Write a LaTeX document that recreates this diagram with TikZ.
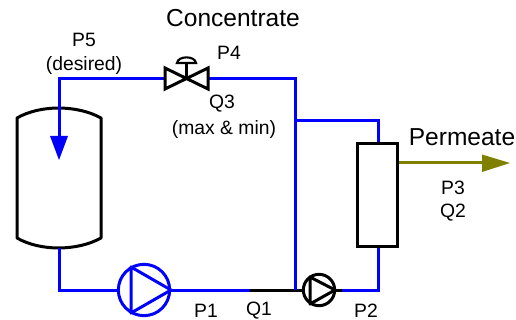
\documentclass[tikz,border=0pt]{standalone}
\usepackage{fontspec}
\setmainfont{Liberation Sans}
\usetikzlibrary{arrows.meta}
\definecolor{pipeblue}{RGB}{0,0,255}
\definecolor{permolive}{RGB}{128,128,0}
\tikzset{
  pipe/.style={draw=pipeblue,line width=2.25pt,line join=miter},
  blackpart/.style={draw=black,line width=2.25pt,line join=round},
  lab/.style={font=\fontsize{14.5pt}{16pt}\selectfont,inner sep=0pt,anchor=center},
  biglab/.style={font=\fontsize{18.4pt}{20pt}\selectfont,inner sep=0pt,anchor=center},
  pumpa/.style={circle,draw=pipeblue,line width=2.25pt,minimum size=38.5pt,inner sep=0pt,outer sep=0pt},
  pumpb/.style={circle,draw=black,line width=2.25pt,minimum size=23.5pt,inner sep=0pt,outer sep=0pt},
  membrane/.style={rectangle,draw=black,line width=2.25pt,minimum width=30.5pt,minimum height=77pt,inner sep=0pt,outer sep=0pt}
}
\begin{document}
\begin{tikzpicture}[x=0.75pt,y=-0.75pt]
\useasboundingbox (0,0) rectangle (516,320);
% named points
\coordinate (corner) at (59,79);
\coordinate (valveL) at (165,79);
\coordinate (valveC) at (186,79);
\coordinate (valveR) at (208,79);
\coordinate (tee) at (295,79);
\coordinate (branch) at (295,121);
\coordinate (mtop) at (378,121);
\coordinate (join) at (295,290);
\coordinate (mbot) at (378,290);
\coordinate (vesselBot) at (59,248);
\coordinate (low) at (59,290);
\coordinate (blackStart) at (250,290);
\coordinate (blackEnd) at (342,290);
\coordinate (arrowEnd) at (59,160);
\coordinate (permEnd) at (510,163);
% vessel
\draw[blackpart,line join=bevel] (17,118) .. controls (40,104.7) and (77,104.7) .. (101,118) -- (101,238)
  .. controls (77,251.3) and (40,251.3) .. (17,238) -- cycle;
% components
\node[pumpa] (pump1) at (144,290) {};
\node[pumpb] (pump2) at (319,290) {};
\node[membrane] (mem) at (377.5,195) {};
% pipes
\draw[pipe] (vesselBot) -- (low) -- (pump1.west);
\draw[pipe] (pump1.east) -- (blackStart);
\draw[blackpart,line join=miter] (blackStart) -- (pump2.west);
\draw[blackpart] (pump2.east) -- (blackEnd);
\draw[pipe] (join) -- (tee) -- (valveR);
\draw[pipe] (branch) -- (mtop) -- (378,142);
\draw[pipe] (378,248) -- (mbot) -- (blackEnd);
\draw[pipe] (valveL) -- (corner) -- (59,140);
\fill[pipeblue] (arrowEnd) -- (50,136) -- (68,136) -- cycle;
\draw[draw=permolive,line width=2.25pt] (399,163) -- (485,163);
\fill[permolive] (permEnd) -- (482,154.5) -- (482,172) -- cycle;
% pump triangles
\draw[pipe,line join=round] (131,267) -- (131,313) -- (171,290) -- cycle;
\draw[blackpart] (310,277) -- (310,304) -- (335,290) -- cycle;
% valve
\draw[blackpart,line join=miter] (165,68) -- (208,89) -- (208,68) -- (165,89) -- cycle;
\draw[blackpart] (valveC) -- (186,63);
\draw[draw=black,line width=1.6pt] (177,63) .. controls (178,55.5) and (195,55.5) .. (196,63) -- cycle;
% labels
\node[biglab] (tconc) at (233,18) {Concentrate};
\node[biglab] (tperm) at (462,137) {Permeate};
\node[lab] (tp5) at (84,40) {P5};
\node[lab] (tdes) at (84,65) {(desired)};
\node[lab] (tp4) at (229,53) {P4};
\node[lab] (tq3) at (222,104) {Q3};
\node[lab] (tmax) at (224,129) {(max \& min)};
\node[lab] (tp3) at (453,188) {P3};
\node[lab] (tq2) at (453,213) {Q2};
\node[lab] (tp1) at (206,311) {P1};
\node[lab] (tq1) at (259,311) {Q1};
\node[lab] (tp2) at (366,311) {P2};
\end{tikzpicture}
\end{document}
